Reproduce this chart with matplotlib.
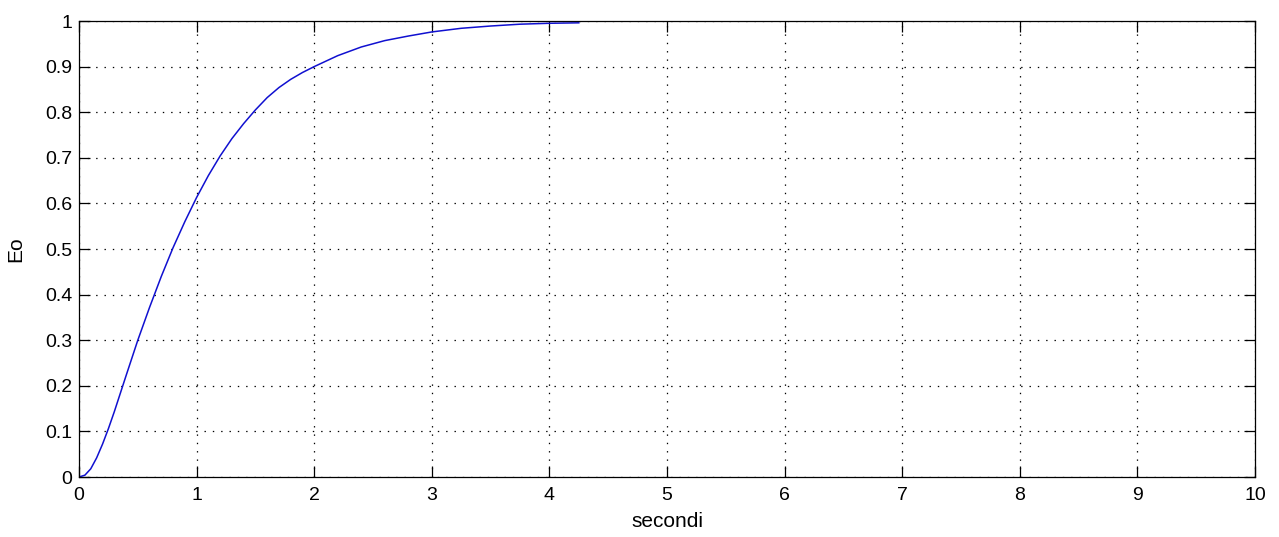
import matplotlib
matplotlib.use("Agg")
import matplotlib.pyplot as plt
import numpy as np

t = [0, 0.05, 0.1, 0.15, 0.2, 0.25, 0.3, 0.4, 0.5, 0.6, 0.7, 0.8, 0.9, 1.0, 1.1, 1.2, 1.3,
     1.4, 1.5, 1.6, 1.7, 1.8, 1.9, 2.0, 2.2, 2.4, 2.6, 2.8, 3.0, 3.25, 3.5, 3.75, 4.0, 4.25]
eo = [0, 0.004, 0.018, 0.042, 0.072, 0.106, 0.143, 0.222, 0.30, 0.372, 0.44, 0.503, 0.56,
      0.613, 0.661, 0.704, 0.742, 0.775, 0.805, 0.832, 0.854, 0.872, 0.887, 0.90, 0.924,
      0.943, 0.957, 0.967, 0.976, 0.984, 0.989, 0.993, 0.995, 0.996]

xticks = list(range(0, 11))
yticks = [round(0.1 * i, 1) for i in range(11)]
ytick_labels = ["0", "0.1", "0.2", "0.3", "0.4", "0.5", "0.6", "0.7", "0.8", "0.9", "1"]

plt.rcParams['font.family'] = ['Liberation Sans', 'DejaVu Sans']
plt.rcParams['lines.scale_dashes'] = False

fig = plt.figure(figsize=(12.79, 5.37), dpi=100)
ax = fig.add_axes([79/1279, 1 - 477/537, (1255-79)/1279, (477-21)/537])

ax.plot(t, eo, color='#1010d0', lw=1.1)
ax.set_xlim(0, 10)
ax.set_ylim(0, 1)
ax.set_xticks(xticks)
ax.set_xticklabels([str(x) for x in xticks])
ax.set_yticks(yticks)
ax.set_yticklabels(ytick_labels)
ax.grid(True, color='black', linestyle=(0, (1.0, 5.0)), lw=0.9)
ax.tick_params(direction='in', length=8, width=0.9, top=True, right=True,
               labelsize=14, colors='black')
ax.tick_params(axis='x', pad=7)
ax.tick_params(axis='y', pad=5)
for s in ax.spines.values():
    s.set_linewidth(0.9)
ax.set_xlabel('secondi', fontsize=15, labelpad=6)
ax.set_ylabel('Eo', fontsize=15, labelpad=14)

fig.savefig('out.png', dpi=100)
